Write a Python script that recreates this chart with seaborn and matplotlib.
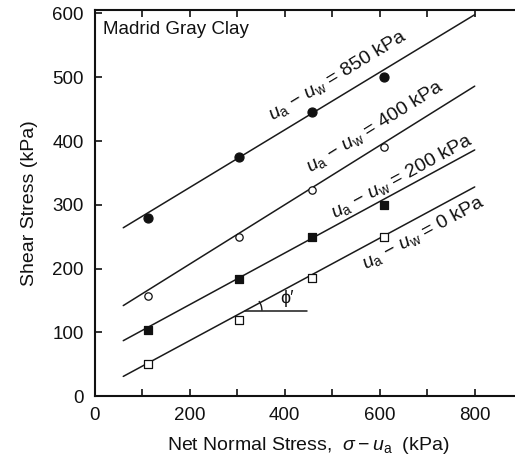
import numpy as np
import pandas as pd
import matplotlib
matplotlib.use("Agg")
import matplotlib.pyplot as plt
import seaborn as sns
from matplotlib.patches import Arc

# ---- data ----
suction = ["850", "400", "200", "0"]
net_stress = [112, 304, 458, 610]
shear_850 = [280, 375, 445, 500]
shear_400 = [157, 250, 323, 390]
shear_200 = [103, 183, 250, 300]
shear_0 = [50, 120, 185, 250]
fit_x = [60, 800]
fit_850 = [264, 598]
fit_400 = [142, 486]
fit_200 = [87, 386]
fit_0 = [31, 328]
x_ticks = [0, 200, 400, 600, 800]
y_ticks = [0, 100, 200, 300, 400, 500, 600]
label_pos = {"850": (512, 503), "400": (590, 422), "200": (646, 344), "0": (692, 256)}

sns.set_style("ticks")
plt.rcParams["font.family"] = ["Liberation Sans", "DejaVu Sans"]
plt.rcParams["mathtext.fontset"] = "custom"
plt.rcParams["mathtext.rm"] = "Liberation Sans"
plt.rcParams["mathtext.it"] = "Liberation Sans:italic"
plt.rcParams["mathtext.sf"] = "Liberation Sans"

shear = {"850": shear_850, "400": shear_400, "200": shear_200, "0": shear_0}
fits = {"850": fit_850, "400": fit_400, "200": fit_200, "0": fit_0}

pts = pd.DataFrame([
    {"x": x, "y": y, "s": s} for s in suction for x, y in zip(net_stress, shear[s])
])
lines = pd.DataFrame([
    {"x": x, "y": y, "s": s} for s in suction for x, y in zip(fit_x, fits[s])
])

fig = plt.figure(figsize=(5.15, 4.65), dpi=100)
ax = fig.add_axes([0.184, 0.148, 0.830, 0.830])

sns.lineplot(data=lines, x="x", y="y", units="s", estimator=None,
             color="#1a1a1a", lw=1.1, ax=ax, legend=False)

marker_style = {
    "850": dict(marker="o", fc="#111111", s=42),
    "400": dict(marker="o", fc="white", s=28),
    "200": dict(marker="s", fc="#111111", s=36),
    "0": dict(marker="s", fc="white", s=26),
}
for s in suction:
    st = marker_style[s]
    sns.scatterplot(data=pts[pts.s == s], x="x", y="y", marker=st["marker"],
                    s=st["s"], color=st["fc"], edgecolor="#111111",
                    linewidth=0.9, ax=ax, zorder=5, legend=False)

ax.set_xlim(0, 900)
ax.set_ylim(0, 605)
ax.set_xticks(x_ticks)
ax.set_xticks([100, 300, 500, 700], minor=True)
ax.set_yticks(y_ticks)
ax.tick_params(which="both", direction="in", length=5, width=1.2,
               top=True, right=True, labelsize=13.5, colors="#111111", pad=8)
for sp in ax.spines.values():
    sp.set_linewidth(1.5)
    sp.set_color("#111111")

ax.set_xlabel(r"Net Normal Stress,  $\sigma - u_{\mathrm{a}}$  (kPa)", fontsize=14, labelpad=8, color="#111111")
ax.set_ylabel("Shear Stress (kPa)", fontsize=14, labelpad=10, color="#111111")

ax.text(18, 575, "Madrid Gray Clay", fontsize=13.5, ha="left", va="center", color="#111111")

fig.canvas.draw()
for s in suction:
    p0 = ax.transData.transform((fit_x[0], fits[s][0]))
    p1 = ax.transData.transform((fit_x[1], fits[s][1]))
    ang = np.degrees(np.arctan2(p1[1] - p0[1], p1[0] - p0[0]))
    lx, ly = label_pos[s]
    ax.text(lx, ly, r"$u_{\mathrm{a}}$ − $u_{\mathrm{w}}$ = " + s + " kPa", rotation=ang,
            rotation_mode="anchor", ha="center", va="center",
            fontsize=14, color="#111111")

# phi' annotation
ax.plot([316, 446], [134, 134], color="#1a1a1a", lw=1.1)
arc = Arc((316, 134), 2 * 36, 2 * 26.6, theta1=0, theta2=27, color="#1a1a1a", lw=1.0)
ax.add_patch(arc)
ax.text(404, 153, "ϕ′", fontsize=13, ha="center", va="center", color="#111111")

fig.savefig("out.png", dpi=100)
